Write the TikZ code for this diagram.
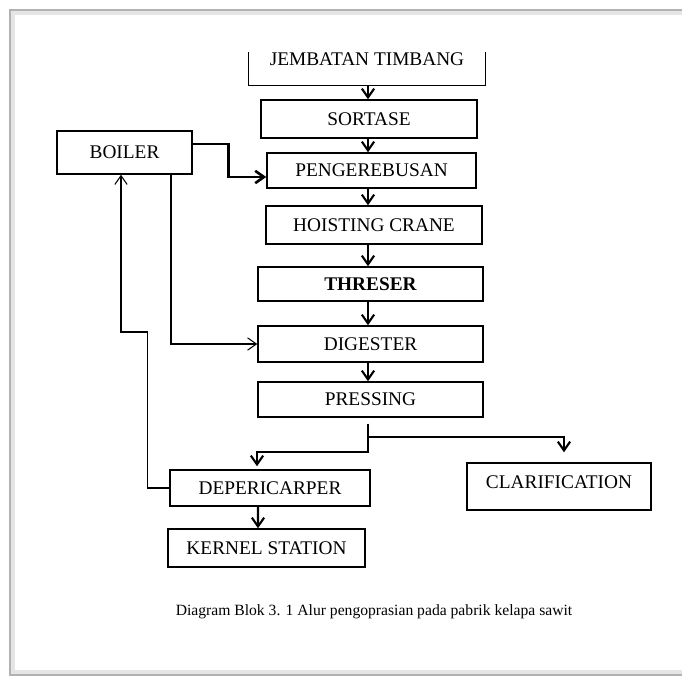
\documentclass[tikz,border=0pt]{standalone}
\usepackage{fontspec}
\setmainfont{Liberation Serif}
\usetikzlibrary{arrows.meta}
\begin{document}
\begin{tikzpicture}[x=0.02cm,y=-0.02cm,
		font=\fontsize{11}{13}\selectfont,
		blok/.style={draw,line width=0.85pt,inner sep=0pt},
		alur/.style={line width=1.2pt,-{Straight Barb[length=5pt,width=7pt]}},
		alurtipis/.style={line width=0.6pt,-{Straight Barb[length=5pt,width=7pt]}}]
		\useasboundingbox (0,0) rectangle (682,679);
		% halaman
		\draw [gray!20,line width=2pt](682,13)--(13,13)--(13,672)--(682,672);
		\draw [gray!60,line width=0.8pt](682,10)--(10,10)--(10,675)--(682,675);
		% kolom tengah
		\coordinate (tengah) at (368,0);
		\node (jt) at (367,59) [minimum width=4.72cm,minimum height=1.04cm,inner sep=0pt] {JEMBATAN TIMBANG};
		\draw [line width=0.85pt](jt.south west)++(0,-33)--(jt.south west)--(jt.south east)--++(0,-33);
		\node (sortase) at (369,119) [blok,minimum width=4.32cm,minimum height=0.76cm] {SORTASE};
		\node (rebus) at (371.5,170.5) [blok,minimum width=4.18cm,minimum height=0.7cm] {PENGEREBUSAN};
		\node (crane) at (374,225) [blok,minimum width=4.32cm,minimum height=0.76cm] {HOISTING CRANE};
		\node (threser) at (370.5,284) [blok,minimum width=4.5cm,minimum height=0.68cm] {\bfseries THRESER};
		\node (digester) at (370.5,344) [blok,minimum width=4.5cm,minimum height=0.72cm] {DIGESTER};
		\node (pressing) at (370.5,399.5) [blok,minimum width=4.5cm,minimum height=0.7cm] {PRESSING};
		% samping
		\node (boiler) at (124.5,152.5) [blok,minimum width=2.7cm,minimum height=0.86cm] {BOILER};
		\node (depericarper) at (270,488) [blok,minimum width=4cm,minimum height=0.72cm] {DEPERICARPER};
		\node (kernel) at (266.5,548) [blok,minimum width=3.94cm,minimum height=0.76cm] {KERNEL STATION};
		\node (clarification) at (559,486.5) [blok,minimum width=3.68cm,minimum height=0.94cm,text depth=5pt] {CLARIFICATION};
		% panah
		\draw [alur](jt.south -| tengah)--(sortase.north -| tengah);
		\draw [alur](sortase.south -| tengah)--(rebus.north -| tengah);
		\draw [alur](rebus.south -| tengah)--(crane.north -| tengah);
		\draw [alur](crane.south -| tengah)--(threser.north -| tengah);
		\draw [alur](threser.south -| tengah)--(digester.north -| tengah);
		\draw [alur](digester.south -| tengah)--(pressing.north -| tengah);
		\draw [alur,line width=1.5pt]([yshift=0.17cm]boiler.east)--++(36,0)|-([yshift=-0.13cm]rebus.west);
		\draw [alurtipis]([xshift=0.93cm]boiler.south)|-(digester.west);
		\draw [alurtipis](depericarper.west)-|++(-22,-156)-|([xshift=-0.07cm]boiler.south);
		\coordinate (cabang) at (368,437);
		\draw [line width=1.2pt,shorten <=0.12cm](pressing.south -| tengah)--(cabang);
		\draw [alur,shorten >=0.2cm](cabang)-|([xshift=0.1cm]clarification.north);
		\draw [alur,shorten >=0.06cm](cabang)--++(0,15)-|([xshift=-0.26cm]depericarper.north);
		\draw [alur]([xshift=-0.24cm]depericarper.south)--([xshift=-0.17cm]kernel.north);
		\node (keterangan) at (374,612) [font=\fontsize{8.9}{10}\selectfont] {Diagram Blok 3. 1 Alur pengoprasian pada pabrik kelapa sawit};
\end{tikzpicture}
\end{document}
